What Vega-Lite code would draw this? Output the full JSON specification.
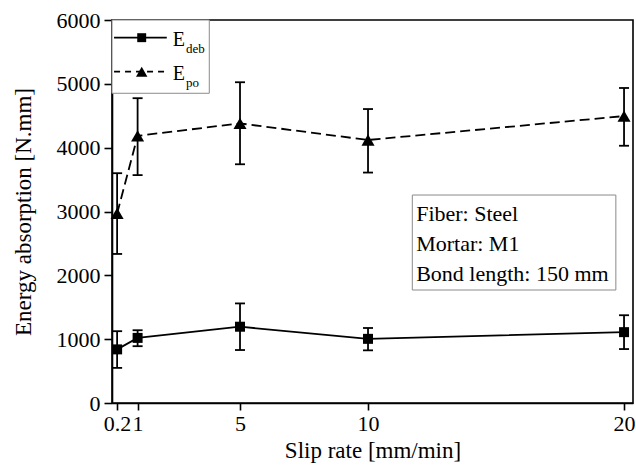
{
  "$schema": "https://vega.github.io/schema/vega-lite/v6.json",
  "width": 521,
  "height": 383,
  "autosize": {"type": "none"},
  "padding": {"left": 112, "top": 20, "right": 3, "bottom": 69},
  "config": {
    "font": "Times New Roman, Liberation Serif, Tinos, serif",
    "text": {"font": "Times New Roman, Liberation Serif, Tinos, serif"},
    "view": {"stroke": "black", "strokeWidth": 1.6},
    "axis": {
      "grid": false,
      "domainColor": "black",
      "domainWidth": 1.6,
      "tickColor": "black",
      "tickWidth": 1.6,
      "labelColor": "black",
      "titleColor": "black",
      "labelFont": "Times New Roman, Liberation Serif, Tinos, serif",
      "titleFont": "Times New Roman, Liberation Serif, Tinos, serif",
      "labelFontSize": 22,
      "titleFontSize": 23,
      "titleFontWeight": "normal"
    }
  },
  "data": {
    "values": [
      {"rate": 0.2, "series": "deb", "energy": 840, "lo": 550, "hi": 1125},
      {"rate": 1, "series": "deb", "energy": 1020, "lo": 890, "hi": 1140},
      {"rate": 5, "series": "deb", "energy": 1195, "lo": 830, "hi": 1560},
      {"rate": 10, "series": "deb", "energy": 1005, "lo": 825, "hi": 1175},
      {"rate": 20, "series": "deb", "energy": 1110, "lo": 845, "hi": 1375},
      {"rate": 0.2, "series": "po", "energy": 2970, "lo": 2335, "hi": 3600},
      {"rate": 1, "series": "po", "energy": 4185, "lo": 3570, "hi": 4775},
      {"rate": 5, "series": "po", "energy": 4380, "lo": 3740, "hi": 5025},
      {"rate": 10, "series": "po", "energy": 4120, "lo": 3610, "hi": 4605},
      {"rate": 20, "series": "po", "energy": 4495, "lo": 4030, "hi": 4935}
    ]
  },
  "layer": [
    {
      "encoding": {
        "x": {
          "field": "rate",
          "type": "quantitative",
          "scale": {"domain": [0, 20.35], "nice": false, "zero": false},
          "axis": {
            "title": "Slip rate [mm/min]",
            "values": [0.2, 1, 5, 10, 20],
            "format": "~g",
            "labelOverlap": false,
            "labelFlush": false,
            "tickSize": 7,
            "labelPadding": 3,
            "titlePadding": 5
          }
        },
        "y": {
          "field": "energy",
          "type": "quantitative",
          "scale": {"domain": [0, 6000], "nice": false},
          "axis": {
            "title": "Energy absorption [N.mm]",
            "values": [0, 1000, 2000, 3000, 4000, 5000, 6000],
            "format": "d",
            "tickSize": 8,
            "labelPadding": 4,
            "titlePadding": 21
          }
        }
      },
      "layer": [
        {
          "mark": {"type": "rule", "color": "black", "strokeWidth": 1.8},
          "encoding": {"y": {"field": "lo", "type": "quantitative"}, "y2": {"field": "hi"}}
        },
        {
          "mark": {"type": "tick", "orient": "horizontal", "size": 10, "thickness": 1.8, "color": "black", "opacity": 1},
          "encoding": {"y": {"field": "lo", "type": "quantitative"}}
        },
        {
          "mark": {"type": "tick", "orient": "horizontal", "size": 10, "thickness": 1.8, "color": "black", "opacity": 1},
          "encoding": {"y": {"field": "hi", "type": "quantitative"}}
        },
        {
          "transform": [{"filter": "datum.series === 'deb'"}],
          "mark": {"type": "line", "color": "black", "strokeWidth": 1.8}
        },
        {
          "transform": [{"filter": "datum.series === 'po'"}],
          "mark": {"type": "line", "color": "black", "strokeWidth": 1.8, "strokeDash": [10, 5]}
        },
        {
          "transform": [{"filter": "datum.series === 'deb'"}],
          "mark": {"type": "point", "shape": "square", "filled": true, "color": "black", "opacity": 1, "size": 100}
        },
        {
          "transform": [{"filter": "datum.series === 'po'"}],
          "mark": {"type": "point", "shape": "triangle-up", "filled": true, "color": "black", "opacity": 1, "size": 170}
        }
      ]
    },
    {
      "data": {"values": [{"item": "legend"}]},
      "layer": [
        {
          "mark": {"type": "rect", "fill": "white", "stroke": "#8a8a8a", "strokeWidth": 1},
          "encoding": {
            "x": {"datum": 0}, "x2": {"datum": 3.8},
            "y": {"datum": 6000}, "y2": {"datum": 4852}
          }
        },
        {
          "mark": {"type": "rule", "color": "black", "strokeWidth": 1.8},
          "encoding": {
            "x": {"datum": 0.08}, "x2": {"datum": 2.14},
            "y": {"datum": 5723}
          }
        },
        {
          "mark": {"type": "rule", "color": "black", "strokeWidth": 1.8, "strokeDash": [6, 5]},
          "encoding": {
            "x": {"datum": 0.08}, "x2": {"datum": 2.14},
            "y": {"datum": 5190}
          }
        },
        {
          "mark": {"type": "point", "shape": "square", "filled": true, "color": "black", "opacity": 1, "size": 80},
          "encoding": {"x": {"datum": 1.16}, "y": {"datum": 5723}}
        },
        {
          "mark": {"type": "point", "shape": "triangle-up", "filled": true, "color": "black", "opacity": 1, "size": 130},
          "encoding": {"x": {"datum": 1.16}, "y": {"datum": 5190}}
        },
        {
          "mark": {"type": "text", "text": "E", "align": "left", "baseline": "alphabetic", "fontSize": 20, "color": "black"},
          "encoding": {"x": {"datum": 2.37}, "y": {"datum": 5593}}
        },
        {
          "mark": {"type": "text", "text": "deb", "align": "left", "baseline": "alphabetic", "fontSize": 13, "color": "black"},
          "encoding": {"x": {"datum": 2.89}, "y": {"datum": 5478}}
        },
        {
          "mark": {"type": "text", "text": "E", "align": "left", "baseline": "alphabetic", "fontSize": 20, "color": "black"},
          "encoding": {"x": {"datum": 2.37}, "y": {"datum": 5060}}
        },
        {
          "mark": {"type": "text", "text": "po", "align": "left", "baseline": "alphabetic", "fontSize": 13, "color": "black"},
          "encoding": {"x": {"datum": 2.89}, "y": {"datum": 4945}}
        }
      ]
    },
    {
      "data": {"values": [{"item": "note"}]},
      "layer": [
        {
          "mark": {"type": "rect", "fill": "white", "stroke": "#8a8a8a", "strokeWidth": 1},
          "encoding": {
            "x": {"datum": 11.73}, "x2": {"datum": 19.68},
            "y": {"datum": 3258}, "y2": {"datum": 1770}
          }
        },
        {
          "mark": {
            "type": "text",
            "text": ["Fiber: Steel", "Mortar: M1", "Bond length: 150 mm"],
            "align": "left",
            "baseline": "alphabetic",
            "fontSize": 22,
            "lineHeight": 30,
            "color": "black"
          },
          "encoding": {"x": {"datum": 11.88}, "y": {"datum": 2851}}
        }
      ]
    }
  ]
}
